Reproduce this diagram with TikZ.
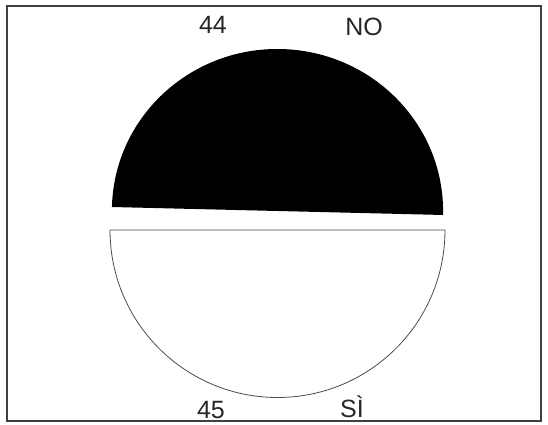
\documentclass[tikz,border=0pt]{standalone}
\usepackage{fontspec}
\setmainfont{Liberation Sans}
\begin{document}
\begin{tikzpicture}[x=1pt,y=-1pt,
  lbl/.style={font=\fontsize{25}{28}\selectfont, text=black!85, inner sep=0pt, anchor=base},
  frame/.style={draw=black!75, line width=1.2pt}]
\useasboundingbox (0,0) rectangle (548,425);
\fill[white] (0,0) rectangle (548,425);
\draw[frame] (7,6) rectangle (541,421);
% black upper half (slightly tilted)
\begin{scope}[rotate around={-1.38:(277.5,211)}]
\coordinate (br) at (443.1,211);
\fill[black] (br) arc[start angle=0, end angle=-180, x radius=165.6, y radius=162] -- cycle;
\end{scope}
% white lower half
\coordinate (wl) at (110,230);
\coordinate (wr) at (445,230);
\draw[black!70, line width=0.8pt, fill=white] (wl) -- (wr) arc[start angle=0, end angle=180, radius=167.5] -- cycle;
\node[lbl] (n44) at (213,34) {44};
\node[lbl] (nno) at (364,36) {NO};
\node[lbl] (n45) at (211,418) {45};
\node[lbl] (nsi) at (352,417) {SÌ};
\end{tikzpicture}
\end{document}
